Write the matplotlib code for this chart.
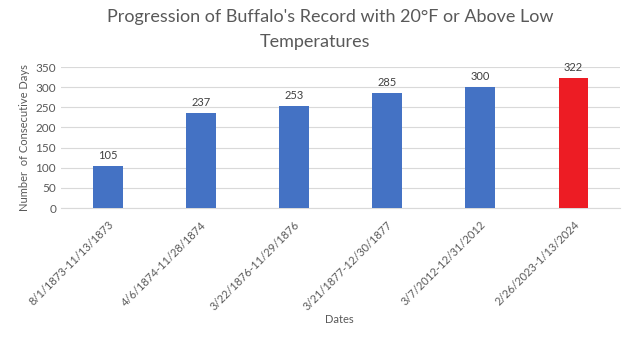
import matplotlib
matplotlib.use("Agg")
import matplotlib.pyplot as plt

periods = ["8/1/1873-11/13/1873", "4/6/1874-11/28/1874", "3/22/1876-11/29/1876",
           "3/21/1877-12/30/1877", "3/7/2012-12/31/2012", "2/26/2023-1/13/2024"]
days = [105, 237, 253, 285, 300, 322]
bar_colors = ["#4472C4"] * 5 + ["#ED1C24"]

plt.rcParams["font.family"] = ["Lato", "DejaVu Sans"]
text_gray = "#595959"

fig = plt.figure(figsize=(6.31, 3.41), dpi=100)
ax = fig.add_axes([0.0967, 0.390, 0.886, 0.4135])

x = range(len(periods))
ax.bar(x, days, width=0.32, color=bar_colors, zorder=3)
for xi, v in zip(x, days):
    ax.text(xi, v + 12, str(v), ha="center", va="bottom", fontsize=8, color="#404040")

ax.set_xlim(-0.5, len(periods) - 0.5)
ax.set_ylim(0, 350)
ax.set_yticks(range(0, 351, 50))
ax.grid(axis="y", color="#D9D9D9", linewidth=0.8, zorder=0)
ax.set_xticks(list(x))
ax.set_xticklabels(periods, rotation=45, ha="right", rotation_mode="anchor")
ax.tick_params(axis="both", length=0, labelcolor=text_gray)
ax.tick_params(axis="y", labelsize=8.5)
ax.tick_params(axis="x", labelsize=8, pad=8)
for s in ["top", "right", "left"]:
    ax.spines[s].set_visible(False)
ax.spines["bottom"].set_color("#D9D9D9")

ax.set_ylabel("Number  of Consecutive Days", fontsize=8, color=text_gray)
fig.text(0.538, 0.062, "Dates", ha="center", va="center", fontsize=8, color=text_gray)

# two-line title, second line sits a little left of the first
fig.text(0.524, 0.950, "Progression of Buffalo's Record with 20°F or Above Low",
         ha="center", va="center", fontsize=13, color=text_gray)
fig.text(0.500, 0.877, "Temperatures", ha="center", va="center", fontsize=13, color=text_gray)

fig.savefig("out.png", dpi=100)
